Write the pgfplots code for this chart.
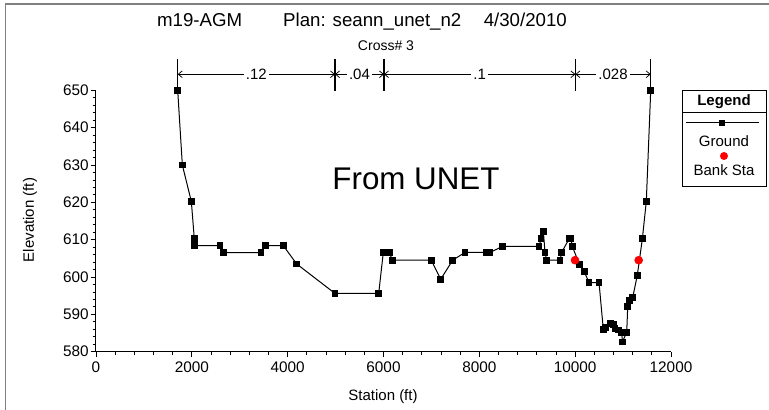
\documentclass[border=0pt]{standalone}
\usepackage{pgfplots}
\pgfplotsset{compat=1.18}
\usepackage{fontspec}
\setmainfont{Liberation Sans}
\usetikzlibrary{arrows.meta}
\tikzset{
  nbreak/.style={black, line width=1pt},
  nlab/.style={{Straight Barb[length=3pt,width=5pt]}-{Straight Barb[length=3pt,width=5pt]}, line width=0.55pt},
  nnode/.style={fill=white, inner sep=1.5pt, font=\fontsize{11.25}{13}\selectfont},
}

\begin{document}
\begin{tikzpicture}
\begin{axis}[
  at={(0,0)}, anchor=south west,
  scale only axis, width=431.25pt, height=196.05pt,
  xmin=0, xmax=12000, ymin=580, ymax=650,
  axis x line*=bottom, axis y line*=left,
  xtick={0,2000,...,12000}, ytick={580,590,...,650},
  scaled x ticks=false,
  minor x tick num=4, minor y tick num=4,
  tick align=outside, major tick length=4pt, minor tick length=2.5pt,
  tick style={black, line width=0.6pt},
  axis line style={black, line width=0.75pt},
  /pgf/number format/assume math mode=true,
  /pgf/number format/1000 sep={},
  tick label style={font=\fontsize{11.5}{13}\selectfont},
  yticklabel style={xshift=2pt},
  clip=false,
]
% ground profile
\addplot[black, line width=0.75pt, mark=square*, mark size=2.2pt] coordinates {
(1705,650) (1802,630) (1990,620.2) (2052,610.2) (2052,608.4) (2588,608.4)
(2657,606.5) (3444,606.5) (3541,608.4) (3909,608.4) (4188,603.5) (4988,595.6)
(5900,595.6) (5996,606.6) (6121,606.6) (6184,604.5) (6998,604.5) (7194,599.4)
(7444,604.5) (7701,606.6) (8139,606.6) (8223,606.6) (8488,608.2) (9246,608.2)
(9288,610.2) (9336,612.2) (9371,606.6) (9406,604.5) (9684,604.5) (9719,606.6)
(9872,610.2) (9913,610.2) (9941,608.2) (10087,603.4) (10191,601.4) (10289,598.5)
(10498,598.5) (10588,585.9) (10630,586.4) (10742,587.6) (10797,587.3) (10832,586.3)
(10901,585.8) (10972,585.2) (10985,582.6) (11076,585.2) (11097,592.1) (11130,593.6)
(11201,594.5) (11297,600.5) (11402,610.2) (11485,620.3) (11577,650)
};
% bank stations
\addplot[only marks, red, mark=*, mark size=3pt] coordinates {(9997,604.5) (11326,604.5)};

% Manning's n breaks
\draw[nbreak] (axis cs:1705,658.4) -- (axis cs:1705,649.8);
\draw[nbreak] (axis cs:4988,658.4) -- (axis cs:4988,649.8);
\draw[nbreak] (axis cs:6010,658.4) -- (axis cs:6010,649.8);
\draw[nbreak] (axis cs:10005,658.4) -- (axis cs:10005,649.8);
\draw[nbreak] (axis cs:11577,658.4) -- (axis cs:11577,649.8);
\draw[nlab] (axis cs:1705,654.3) -- node[nnode] {.12} (axis cs:4988,654.3);
\draw[nlab] (axis cs:4988,654.3) -- node[nnode] {.04} (axis cs:6010,654.3);
\draw[nlab] (axis cs:6010,654.3) -- node[nnode] {.1} (axis cs:10005,654.3);
\draw[nlab] (axis cs:10005,654.3) -- node[nnode] {.028} (axis cs:11577,654.3);
\end{axis}

\begin{scope}[x=0.75pt, y=-0.75pt, shift={(-72pt,263.775pt)}]
\useasboundingbox (0,0) rectangle (769,410);
\draw[gray, line width=1.4pt] (5.5,410) -- (5.5,4) -- (769,4);
% titles
\node[font=\fontsize{14}{16}\selectfont] at (362,22) {m19-AGM\hspace{2.2em}Plan: seann\_unet\_n2\hspace{1.2em}4/30/2010};
\node[font=\fontsize{10.5}{12}\selectfont] at (386,46) {Cross\# 3};
\node[font=\fontsize{23.5}{26}\selectfont] at (416,179) {From UNET};
% axis labels
\node[rotate=90, font=\fontsize{11.25}{13}\selectfont] at (30,220) {Elevation (ft)};
\node[font=\fontsize{11.25}{13}\selectfont] at (383,397) {Station (ft)};
% legend
\draw[black, line width=0.75pt] (682,91) rectangle (766,187);
\draw[black, line width=0.75pt] (682,113) -- (766,113);
\node[font=\bfseries\fontsize{11.25}{13}\selectfont] at (724,102) {Legend};
\draw[black, line width=0.75pt] (686,122.7) -- (759,122.7);
\fill[black] (719,119.7) rectangle (725,125.7);
\node[font=\fontsize{11.25}{13}\selectfont] at (724,141) {Ground};
\fill[red] (724,156) circle (4);
\node[font=\fontsize{11.25}{13}\selectfont] at (724,170) {Bank Sta};
\end{scope}
\end{tikzpicture}
\end{document}
